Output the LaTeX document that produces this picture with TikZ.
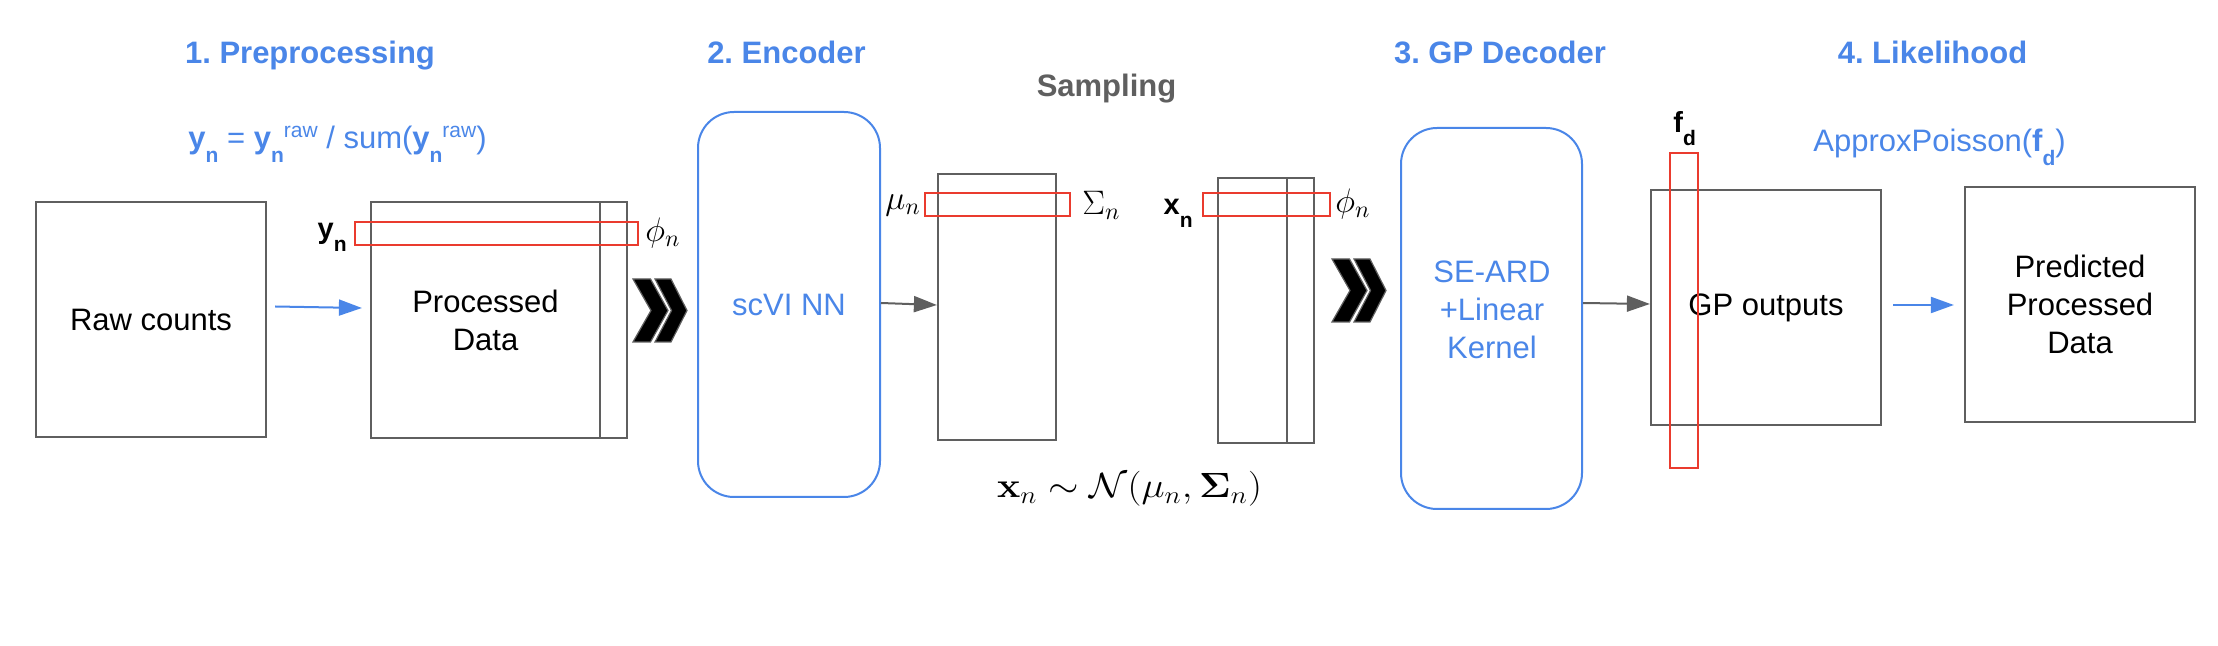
\RequirePackage{fix-cm}
\documentclass[tikz,border=0pt]{standalone}
\usepackage[no-math]{fontspec}
\setmainfont{Liberation Sans}
\usetikzlibrary{arrows.meta,calc}
\definecolor{gblue}{HTML}{4A86E8}
\definecolor{gred}{HTML}{EA3B2E}
\definecolor{ggray}{HTML}{5F5F5F}
\frenchspacing
\newcommand\txt{\fontsize{15.5}{19}\selectfont}
\newcommand\labtxt{\fontsize{14.5}{17}\selectfont}
\newcommand\subtxt[1]{\raisebox{-0.42em}{\fontsize{10.5}{12}\selectfont #1}}
\newcommand\suptxt[1]{\raisebox{0.36em}{\fontsize{10.5}{12}\selectfont #1}}
\newcommand\mkbox[7][]{%
  \pgfmathsetmacro\bcx{(#3+#5)/2}%
  \pgfmathsetmacro\bcy{(#4+#6)/2}%
  \pgfmathsetmacro\bw{(#5-#3)/2}%
  \pgfmathsetmacro\bh{(#6-#4)/2}%
  \node[inner sep=0pt, minimum width=\bw pt, minimum height=\bh pt, #1] (#2) at (\bcx,\bcy) {#7};}
\begin{document}
\begin{tikzpicture}[x=0.5pt,y=-0.5pt,
  gbox/.style={draw=ggray, line width=1.1pt, fill=white},
  rbox/.style={draw=gred, line width=1.2pt},
  bround/.style={draw=gblue, line width=1pt, rounded corners=18pt},
  ttl/.style={text=gblue, font=\txt\bfseries, anchor=base, inner sep=0pt},
  lab/.style={font=\txt, inner sep=0pt},
  blab/.style={font=\labtxt, inner sep=0pt},
  mth/.style={font=\fontsize{17}{20}\selectfont, inner sep=0pt},
  garr/.style={draw=ggray, line width=1pt, -{Triangle[length=11.5pt,width=8pt]}},
  barr/.style={draw=gblue, line width=1pt, -{Triangle[length=11.5pt,width=8pt]}},
  chev/.style={fill=black, draw=ggray, line width=0.6pt}]
\useasboundingbox (0,0) rectangle (2218,646);
% titles
\node[ttl] (t1) at (310,63.5) {1. Preprocessing};
\node[ttl] (t2) at (786.5,63.5) {2. Encoder};
\node[ttl] (t3) at (1500,63.5) {3. GP Decoder};
\node[ttl] (t4) at (1932.5,63.5) {4. Likelihood};
\node[ttl, text=ggray] (samp) at (1106.5,97) {Sampling};
% normalisation formula
\node[lab, text=gblue, anchor=base west] (norm) at (188,149)
  {\textbf{y}\subtxt{\textbf{n}} = \textbf{y}\subtxt{\textbf{n}}\suptxt{raw} / sum(\textbf{y}\subtxt{\textbf{n}}\suptxt{raw})};
% boxes
\mkbox[gbox, font=\txt]{raw}{36}{202}{266}{437}{Raw counts}
\mkbox[gbox]{procback}{398}{202}{627}{438}{}
\mkbox[gbox, font=\txt, align=center]{proc}{371}{202}{600}{438}{Processed\\Data}
\mkbox[bround, text=gblue, font=\txt]{scvi}{698}{112}{880}{497}{scVI NN}
\mkbox[gbox]{mubox}{938}{174}{1056}{440}{}
\mkbox[gbox]{xback}{1218}{178}{1314}{443}{}
\mkbox[gbox]{xbox}{1218}{178}{1287}{443}{}
\mkbox[bround]{seard}{1401}{128}{1582}{509}{}
\node[lab, text=gblue, align=center, font=\txt] (seardtxt) at (1492,310) {SE-ARD\\+Linear\\Kernel};
\mkbox[gbox, font=\txt]{gp}{1651}{190}{1881}{425}{GP outputs}
\mkbox[gbox, font=\txt, align=center]{pred}{1965}{187}{2195}{422}{Predicted\\Processed\\Data}
% red highlights
\mkbox[rbox]{yrow}{355}{222}{638}{245}{}
\mkbox[rbox]{murow}{925}{193}{1070}{216}{}
\mkbox[rbox]{xrow}{1203}{193}{1330}{216}{}
\mkbox[rbox]{fcol}{1670}{153}{1698}{468}{}
% labels
\node[blab, anchor=base east] (ylab) at (347,239) {\textbf{y}\subtxt{\textbf{n}}};
\node[mth, anchor=west] (phia) at (645,233) {$\phi_n$};
\node[mth, anchor=east] (mulab) at (921,205) {$\mu_n$};
\node[mth, anchor=west] (siglab) at (1082,205) {$\Sigma_n$};
\node[blab, anchor=base east] (xlab) at (1193,215) {\textbf{x}\subtxt{\textbf{n}}};
\node[mth, anchor=west] (phib) at (1335,204) {$\phi_n$};
\node[blab, anchor=base west] (flab) at (1673,133) {\textbf{f}\subtxt{\textbf{d}}};
\node[lab, text=gblue, anchor=base west] (pois) at (1813,152) {ApproxPoisson(\textbf{f}\subtxt{\textbf{d}})};
\node[inner sep=0pt, anchor=base] (samplefm) at (1129.5,498)
  {\scalebox{1.12}[1]{\fontsize{17.5}{20}\selectfont$\mathbf{x}_n \sim \mathcal{N}(\mu_n, \mathbf{\Sigma}_n)$}};
% chevrons
\path[chev] (633,279) -- (650.5,279) -- (668,310.5) -- (650.5,342) -- (633,342) -- (651,310.5) -- cycle;
\path[chev] (655,279) -- (671,279) -- (687,310.5) -- (671,342) -- (655,342) -- (671.5,310.5) -- cycle;
\begin{scope}[shift={(699,-20)}]
\path[chev] (633,279) -- (650.5,279) -- (668,310.5) -- (650.5,342) -- (633,342) -- (651,310.5) -- cycle;
\path[chev] (655,279) -- (671,279) -- (687,310.5) -- (671,342) -- (655,342) -- (671.5,310.5) -- cycle;
\end{scope}
% arrows
\draw[barr] ($(raw.east)+(8,-13)$) -- ($(proc.west)+(-8,-12)$);
\draw[garr] ($(scvi.east)+(0,-1.5)$) -- ($(mubox.west)+(0,-2)$);
\draw[garr] ($(seard.east)+(0,-15.5)$) -- ($(gp.west)+(0,-3.5)$);
\draw[barr] ($(gp.east)+(11,-2.5)$) -- ($(pred.west)+(-10,0.5)$);
\end{tikzpicture}
\end{document}
